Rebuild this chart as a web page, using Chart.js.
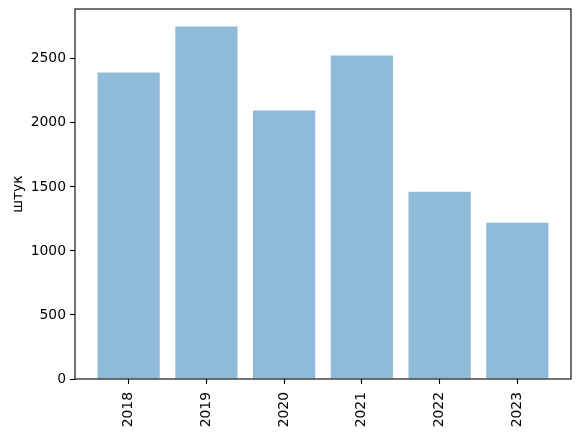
<!DOCTYPE html>
<html>
<head>
<meta charset="utf-8">
<script src="https://cdn.jsdelivr.net/npm/chart.js@4/dist/chart.umd.min.js"></script>
<style>
html,body{margin:0;padding:0;background:#fff;}
#wrap{width:580px;height:434px;position:relative;}
</style>
</head>
<body>
<div id="wrap"><canvas id="c" width="580" height="434"></canvas></div>
<script>
const categories = ["2018", "2019", "2020", "2021", "2022", "2023"];
const values = [2393, 2753, 2096, 2526, 1462, 1220];
const yTicks = [0, 500, 1000, 1500, 2000, 2500];
const yMax = 2889;
const yTitle = "штук";

const FONT = "'DejaVu Sans', sans-serif";
const FS = 13.9;

const frame = {
  id: 'frame',
  afterDraw(chart) {
    const a = chart.chartArea, ctx = chart.ctx;
    ctx.save();
    ctx.strokeStyle = '#000';
    ctx.lineWidth = 1.1;
    ctx.strokeRect(a.left, a.top, a.right - a.left, a.bottom - a.top);
    ctx.restore();
  }
};

new Chart(document.getElementById('c'), {
  type: 'bar',
  data: {
    datasets: [{
      data: values.map((v, i) => ({x: i, y: v})),
      backgroundColor: 'rgba(31,119,180,0.5)',
      borderWidth: 0,
      categoryPercentage: 1.0,
      barPercentage: 0.8
    }]
  },
  options: {
    responsive: false,
    animation: false,
    events: [],
    layout: {padding: {left: 0, right: 9, top: 9, bottom: 0}},
    plugins: {legend: {display: false}, tooltip: {enabled: false}},
    scales: {
      x: {
        type: 'linear',
        offset: false,
        min: -0.69,
        max: categories.length - 1 + 0.69,
        afterBuildTicks: s => { s.ticks = categories.map((_, i) => ({value: i})); },
        afterFit: s => { s.height = 55; s.paddingLeft = 0; s.paddingRight = 0; },
        grid: {offset: false, drawOnChartArea: false, drawTicks: true, tickLength: 5, tickWidth: 1.1, color: '#000'},
        border: {display: false},
        ticks: {
          color: '#000',
          font: {family: FONT, size: FS},
          padding: 8,
          minRotation: 90,
          maxRotation: 90,
          autoSkip: false,
          callback: v => categories[v]
        }
      },
      y: {
        type: 'linear',
        min: 0,
        max: yMax,
        afterBuildTicks: s => { s.ticks = yTicks.map(v => ({value: v})); },
        afterFit: s => { s.width = 75; s.paddingTop = 0; s.paddingBottom = 0; },
        grid: {drawOnChartArea: false, drawTicks: true, tickLength: 5, tickWidth: 1.1, color: '#000'},
        border: {display: false},
        ticks: {
          color: '#000',
          font: {family: FONT, size: FS},
          padding: 4,
          callback: v => String(v)
        },
        title: {
          display: true,
          text: yTitle,
          color: '#000',
          font: {family: FONT, size: FS},
          padding: {top: 10, bottom: 0}
        }
      }
    }
  },
  plugins: [frame]
});
</script>
</body>
</html>
